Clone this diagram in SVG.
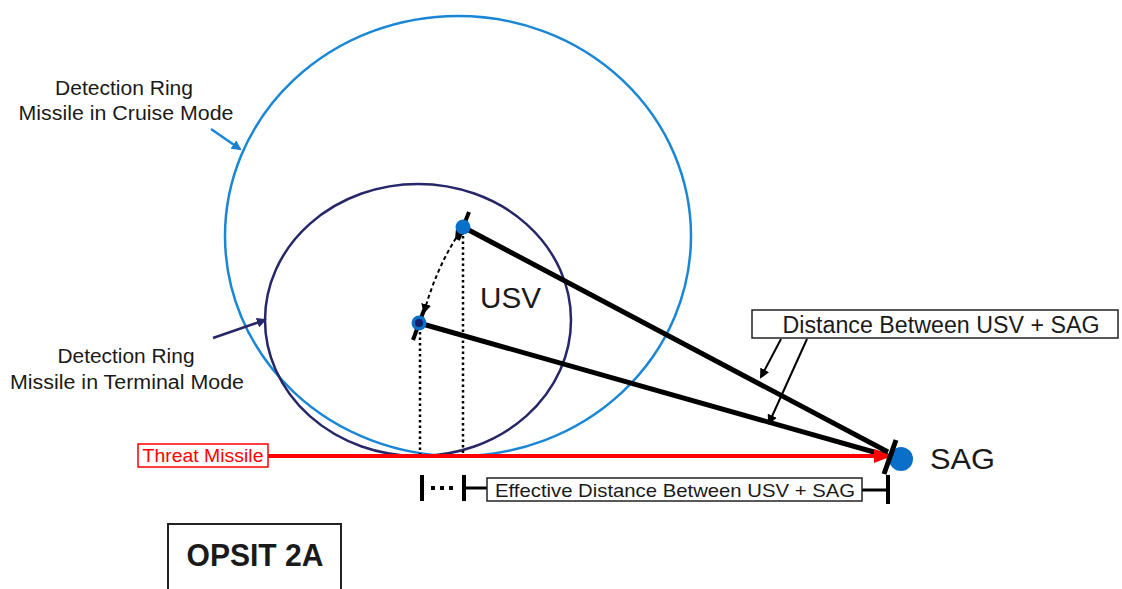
<svg xmlns="http://www.w3.org/2000/svg" width="1122" height="589" viewBox="0 0 1122 589">
<style>
text{font-family:"Liberation Sans",Arial,sans-serif;fill:#1a1a1a}
.lbl{font-size:20px;text-anchor:middle}
.thick{stroke:#000;stroke-width:5;fill:none}
.bar{stroke:#000;stroke-width:4;fill:none}
.dot{stroke:#000;stroke-width:2.5;stroke-dasharray:2.5 3;fill:none}
.box{fill:#fff;stroke:#222;stroke-width:1.5}
</style>
<defs>
<marker id="ab" markerWidth="10" markerHeight="10" refX="8" refY="5" orient="auto" markerUnits="userSpaceOnUse"><path d="M0,0 L10,5 L0,10 z" fill="#1a7fd0"/></marker>
<marker id="an" markerWidth="10" markerHeight="10" refX="8" refY="5" orient="auto" markerUnits="userSpaceOnUse"><path d="M0,0 L10,5 L0,10 z" fill="#262668"/></marker>
<marker id="ak" markerWidth="10" markerHeight="10" refX="8" refY="5" orient="auto" markerUnits="userSpaceOnUse"><path d="M0,0 L10,5 L0,10 z" fill="#000"/></marker>
<marker id="ar" markerWidth="18" markerHeight="14" refX="16" refY="7" orient="auto" markerUnits="userSpaceOnUse"><path d="M0,0 L18,7 L0,14 z" fill="#f00"/></marker>
</defs>
<g id="ring-cruise"><ellipse cx="458" cy="236" rx="233" ry="220" fill="none" stroke="#1a86d6" stroke-width="2.5"/></g>
<g id="ring-terminal"><ellipse cx="418" cy="320" rx="153" ry="136" fill="none" stroke="#262668" stroke-width="2.5"/></g>
<g id="label-cruise">
<text class="lbl" x="124" y="95" textLength="138" lengthAdjust="spacingAndGlyphs">Detection Ring</text>
<text class="lbl" x="126" y="120" textLength="215" lengthAdjust="spacingAndGlyphs">Missile in Cruise Mode</text>
</g>
<g id="label-terminal">
<text class="lbl" x="126" y="363" textLength="137" lengthAdjust="spacingAndGlyphs">Detection Ring</text>
<text class="lbl" x="127" y="389" textLength="234" lengthAdjust="spacingAndGlyphs">Missile in Terminal Mode</text>
</g>
<g id="usv-label"><text x="480" y="308" font-size="29" textLength="61" lengthAdjust="spacingAndGlyphs">USV</text></g>
<g id="sag-label"><text x="930" y="469" font-size="29" textLength="65" lengthAdjust="spacingAndGlyphs">SAG</text></g>
<g id="connectors">
<line x1="211" y1="129" x2="240" y2="149" stroke="#1a86d6" stroke-width="2.5" marker-end="url(#ab)"/>
<line x1="213" y1="338" x2="265" y2="320" stroke="#262668" stroke-width="2.5" marker-end="url(#an)"/>
<line class="thick" x1="463" y1="227" x2="888" y2="452"/>
<line class="thick" x1="419" y1="323" x2="888" y2="456"/>
<line class="dot" x1="463" y1="236" x2="463" y2="453"/>
<line class="dot" x1="420" y1="332" x2="420" y2="456"/>
<path d="M456,238 Q436,270 424,312" fill="none" stroke="#000" stroke-width="2" stroke-dasharray="4 3" marker-end="url(#ak)" marker-start="url(#ak)"/>
<line x1="268" y1="456" x2="890" y2="456" stroke="#f00" stroke-width="4" marker-end="url(#ar)"/>
<line x1="781" y1="339" x2="761" y2="377" stroke="#000" stroke-width="2" marker-end="url(#ak)"/>
<line x1="807" y1="339" x2="769" y2="423" stroke="#000" stroke-width="2" marker-end="url(#ak)"/>
<line class="bar" x1="422" y1="475" x2="422" y2="501"/>
<line x1="431" y1="488" x2="458" y2="488" stroke="#000" stroke-width="4" stroke-dasharray="4 5"/>
<line class="bar" x1="464" y1="475" x2="464" y2="501"/>
<line x1="464" y1="488" x2="487" y2="488" stroke="#000" stroke-width="3"/>
<line x1="862" y1="490" x2="888" y2="490" stroke="#000" stroke-width="3"/>
<line class="bar" x1="888" y1="475" x2="888" y2="504"/>
</g>
<g id="usv-top">
<line class="bar" x1="469" y1="212" x2="458" y2="240"/>
<circle cx="463" cy="227" r="7.5" fill="#0a6fc8"/>
</g>
<g id="usv-bottom">
<line class="bar" x1="424" y1="310" x2="413" y2="340"/>
<circle cx="419" cy="323" r="7.5" fill="#0a6fc8"/>
<circle cx="419" cy="323" r="4" fill="#15206a"/>
</g>
<g id="sag">
<circle cx="901" cy="459" r="12" fill="#0a6fc8"/>
<line x1="896" y1="440" x2="884" y2="474" stroke="#000" stroke-width="5"/>
</g>
<g id="threat-missile">
<rect x="138" y="444" width="130" height="23" fill="#fff" stroke="#f00" stroke-width="1.5"/>
<text x="203" y="462" font-size="18" text-anchor="middle" textLength="121" lengthAdjust="spacingAndGlyphs" style="fill:#f00">Threat Missile</text>
</g>
<g id="distance-box">
<rect class="box" x="752" y="310" width="366" height="28"/>
<text x="941" y="333" font-size="23" text-anchor="middle" textLength="317" lengthAdjust="spacingAndGlyphs">Distance Between USV + SAG</text>
</g>
<g id="effective-box">
<rect class="box" x="487" y="478" width="375" height="23"/>
<text x="675" y="497" font-size="19" text-anchor="middle" textLength="360" lengthAdjust="spacingAndGlyphs">Effective Distance Between USV + SAG</text>
</g>
<g id="opsit">
<rect x="168" y="524" width="173" height="80" fill="#fff" stroke="#222" stroke-width="2"/>
<text x="255" y="566" font-size="31" font-weight="bold" text-anchor="middle" textLength="137" lengthAdjust="spacingAndGlyphs">OPSIT 2A</text>
</g>
</svg>
